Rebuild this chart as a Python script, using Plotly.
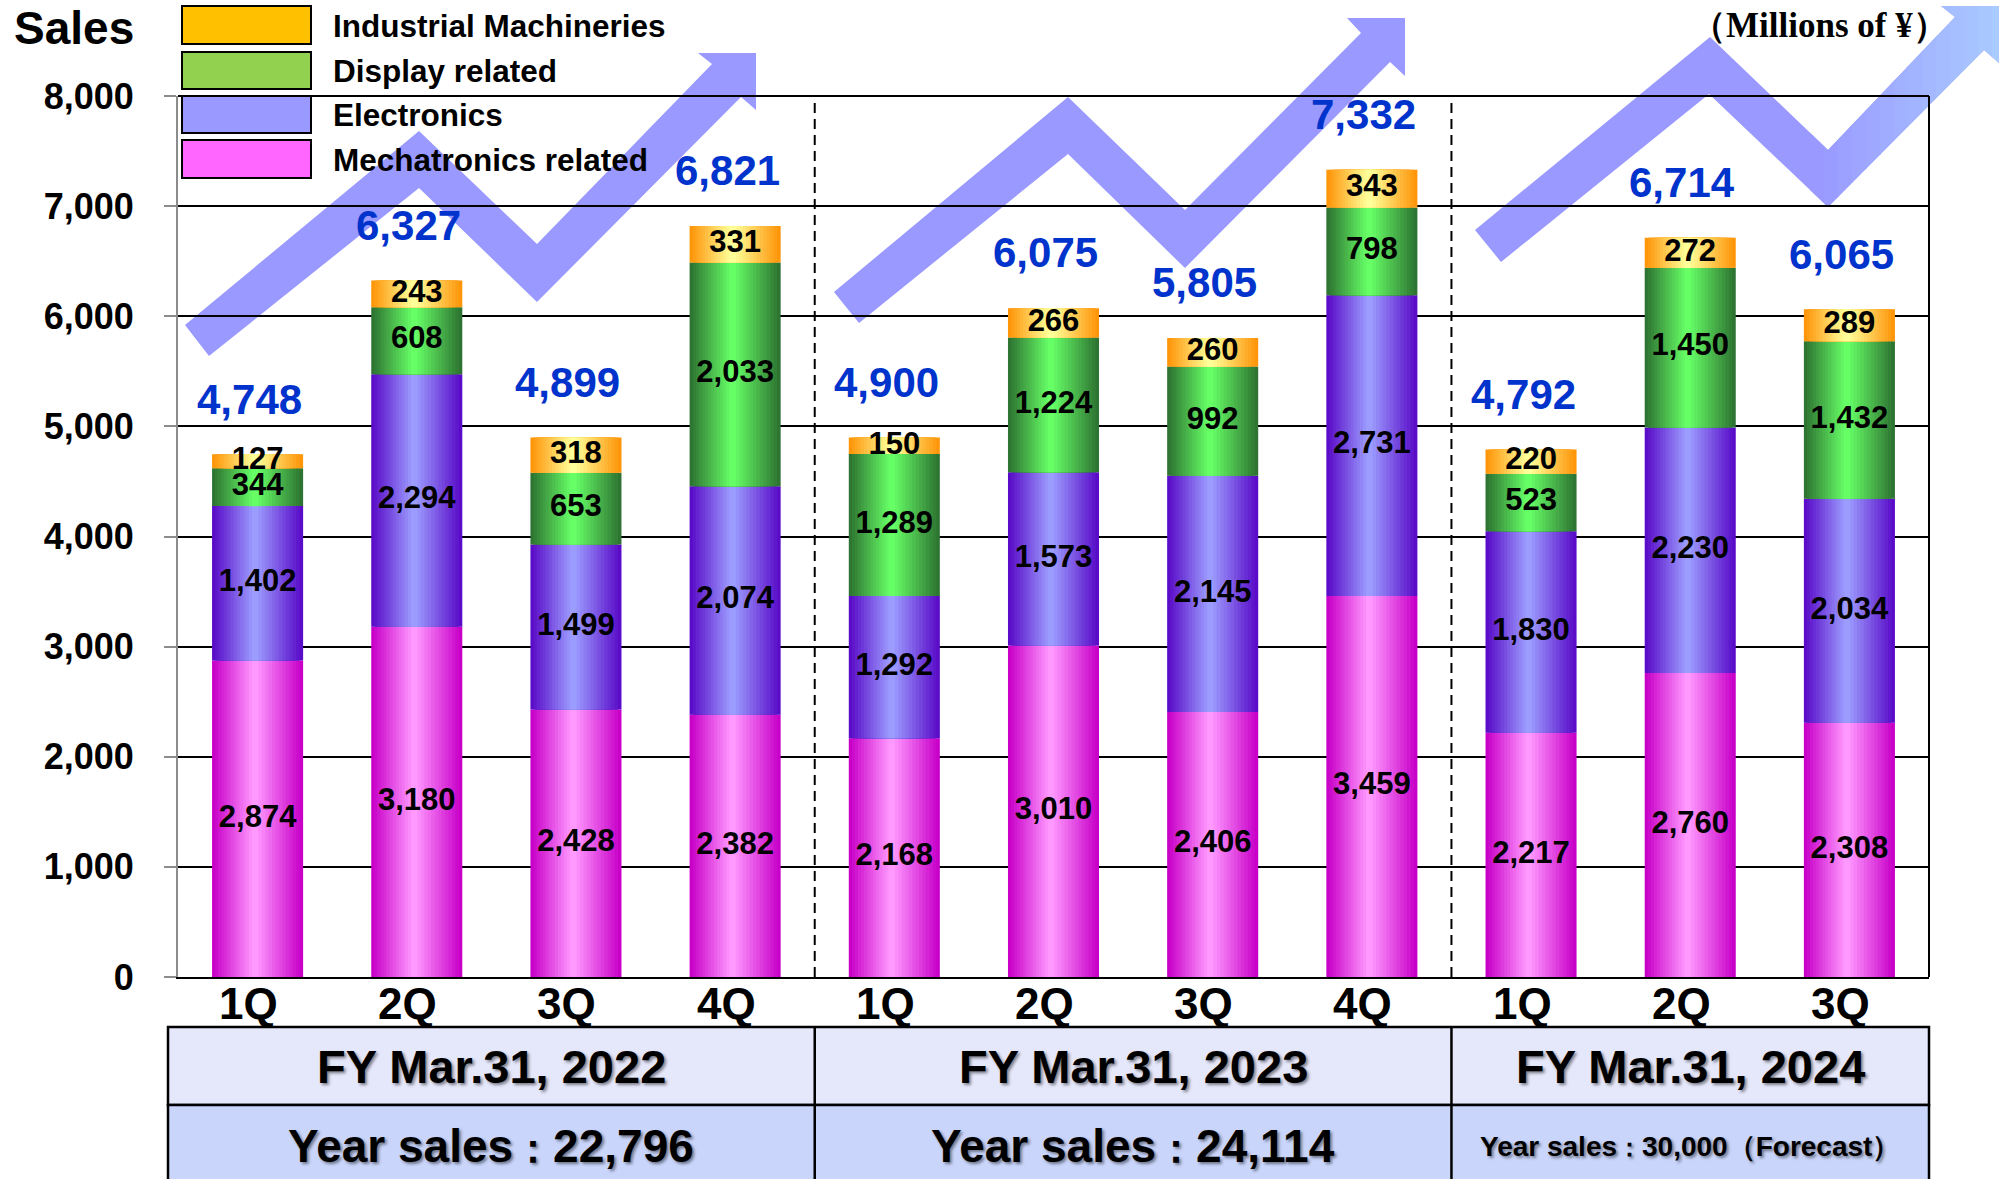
import plotly.graph_objects as go

# ---------------------------------------------------------------------------
# Data (Millions of yen)
# ---------------------------------------------------------------------------
quarters = ["1Q", "2Q", "3Q", "4Q", "1Q", "2Q", "3Q", "4Q", "1Q", "2Q", "3Q"]
mechatronics = [2874, 3180, 2428, 2382, 2168, 3010, 2406, 3459, 2217, 2760, 2308]
electronics = [1402, 2294, 1499, 2074, 1292, 1573, 2145, 2731, 1830, 2230, 2034]
display = [344, 608, 653, 2033, 1289, 1224, 992, 798, 523, 1450, 1432]
industrial = [127, 243, 318, 331, 150, 266, 260, 343, 220, 272, 289]
totals = [4748, 6327, 4899, 6821, 4900, 6075, 5805, 7332, 4792, 6714, 6065]

fiscal_years = ["FY Mar.31, 2022", "FY Mar.31, 2023", "FY Mar.31, 2024"]
fy_quarter_counts = [4, 4, 3]
year_sales = ["Year sales：22,796", "Year sales：24,114", "Year sales：30,000（Forecast）"]

# name, values, edge colour, centre colour, legend swatch
series = [
    ("Mechatronics related", mechatronics, "#C800C8", "#FF99FF", "#FF66FF"),
    ("Electronics", electronics, "#5A0CC8", "#9C9CFF", "#9999FF"),
    ("Display related", display, "#2E7432", "#66FF66", "#92D050"),
    ("Industrial Machineries", industrial, "#FF960A", "#FFFF99", "#FFC000"),
]

FONT = "Liberation Sans, Arial, sans-serif"
SERIF = "Liberation Serif, Times New Roman, serif"
BLUE = "#0033CC"

# plot area in page pixels (used for decoration placement)
PLOT_L, PLOT_R, PLOT_T, PLOT_B = 178, 1929, 96, 977
BAR_W = 0.572
N_LAYERS = 14
PEAK = 0.47


def px_x(X):
    return (X - PLOT_L) / (PLOT_R - PLOT_L)


def px_y(Y):
    return (PLOT_B - Y) / (PLOT_B - PLOT_T)


def data_x(v):
    return (v + 0.5) / len(quarters)


def mix(c1, c2, t):
    a = [int(c1[i:i + 2], 16) for i in (1, 3, 5)]
    b = [int(c2[i:i + 2], 16) for i in (1, 3, 5)]
    return "#" + "".join(f"{round(x + (y - x) * t):02X}" for x, y in zip(a, b))


def clip_x(poly, lo, hi):
    def clip(pts, inside, cross):
        out = []
        for i, p in enumerate(pts):
            q = pts[i - 1]
            if inside(p):
                if not inside(q):
                    out.append(cross(q, p))
                out.append(p)
            elif inside(q):
                out.append(cross(q, p))
        return out

    def at(xc):
        return lambda a, b: (xc, a[1] + (b[1] - a[1]) * (xc - a[0]) / (b[0] - a[0]))

    pts = clip(poly, lambda p: p[0] >= lo, at(lo))
    return clip(pts, lambda p: p[0] <= hi, at(hi)) if pts else pts


def poly_path(pts):
    return "M " + " L ".join(f"{px_x(x):.5f},{px_y(y):.5f}" for x, y in pts) + " Z"


def tight_colon(text, size):
    # the full-width colon is set a little smaller so it sits tight like the original
    return text.replace("：", f'<span style="font-size:{size}px">：</span>')


xs = list(range(len(quarters)))
fig = go.Figure()

# ---------------------------------------------------------------------------
# Stacked bars with a horizontal "cylinder" shading (overlaid narrower bars)
# ---------------------------------------------------------------------------
bases = [0] * len(xs)
for name, vals, edge, mid, _ in series:
    for k in range(N_LAYERS):
        f = 1 - k / N_LAYERS
        fig.add_bar(
            x=xs, y=vals, base=bases,
            width=BAR_W * f,
            offset=-BAR_W / 2 + PEAK * BAR_W * (1 - f),
            marker=dict(color=mix(edge, mid, k / (N_LAYERS - 1)), line=dict(width=0)),
            name=name, showlegend=False, hoverinfo="skip",
        )
    fig.add_scatter(
        x=xs, y=[b + v / 2 for b, v in zip(bases, vals)],
        text=[f"{v:,}" for v in vals], mode="text",
        textfont=dict(family=FONT, size=31, color="black", weight="bold"),
        showlegend=False, hoverinfo="skip", cliponaxis=False,
    )
    bases = [b + v for b, v in zip(bases, vals)]

# quarter totals
for x, t in zip(xs, totals):
    fig.add_annotation(
        x=x, y=t, text=f"{t:,}", showarrow=False, yanchor="middle",
        yshift=55, xshift=-8,
        font=dict(family=FONT, size=42, color=BLUE, weight="bold"),
    )

# quarter labels under the axis
for x, q in zip(xs, quarters):
    fig.add_annotation(
        x=x, y=px_y(1003), yref="paper", text=q, showarrow=False, yanchor="middle",
        xshift=-9, font=dict(family=FONT, size=44, color="black", weight="bold"),
    )

# ---------------------------------------------------------------------------
# Decorative zig-zag arrows (page pixels)
# ---------------------------------------------------------------------------
arrows = [
    [(209, 356), (419, 188), (537, 302), (741, 97), (756, 110), (756, 53),
     (698, 53), (712, 64), (537, 244), (419, 131), (185, 325)],
    [(859, 323), (1068, 154), (1185, 268), (1390, 62), (1405, 76), (1405, 18),
     (1347, 18), (1361, 33), (1185, 210), (1068, 97), (834, 292)],
    [(1501, 262), (1709, 94), (1828, 207), (1984, 50), (1999, 63), (1999, 6),
     (1941, 6), (1955, 17), (1828, 150), (1710, 37), (1475, 230)],
]
shapes = []
for pts in arrows:
    shapes.append(dict(type="path", xref="paper", yref="paper", path=poly_path(pts),
                       fillcolor="#9999FF", line=dict(width=0), layer="below"))
# last arrow fades to light blue towards its head
step = 14
for x0 in range(1810, 2001, step):
    part = clip_x(arrows[2], x0, x0 + step + 1)
    if len(part) < 3:
        continue
    t = min(1.0, (x0 - 1810) / 185)
    shapes.append(dict(type="path", xref="paper", yref="paper", path=poly_path(part),
                       fillcolor=mix("#9999FF", "#AACCFF", t), line=dict(width=0),
                       layer="below"))

# plot frame: right border, top border, FY separators
shapes.append(dict(type="line", xref="paper", yref="paper", x0=1, x1=1, y0=0, y1=1,
                   line=dict(color="black", width=2)))
shapes.append(dict(type="line", xref="paper", yref="paper", x0=0, x1=1, y0=1, y1=1,
                   line=dict(color="black", width=2)))
bounds = [-0.5]
for n in fy_quarter_counts:
    bounds.append(bounds[-1] + n)
for b in bounds[1:-1]:
    shapes.append(dict(type="line", xref="x", yref="paper", x0=b, x1=b, y0=0, y1=1,
                       line=dict(color="black", width=2, dash="10px,6px")))

# ---------------------------------------------------------------------------
# Legend (drawn by hand to get the large swatches)
# ---------------------------------------------------------------------------
legend_rows = [(6, 44), (52, 89), (96, 133), (140, 178)]
for (name, _, _, _, swatch), (y0, y1) in zip(reversed(series), legend_rows):
    shapes.append(dict(type="rect", xref="paper", yref="paper",
                       x0=px_x(182), x1=px_x(311), y0=px_y(y1), y1=px_y(y0),
                       fillcolor=swatch, line=dict(color="black", width=2)))
    fig.add_annotation(xref="paper", yref="paper", x=px_x(331), y=px_y((y0 + y1) / 2 + 1),
                       text=name, showarrow=False, xanchor="left", yanchor="middle",
                       font=dict(family=FONT, size=31.5, color="black", weight="bold"))

# ---------------------------------------------------------------------------
# Fiscal-year table under the axis
# ---------------------------------------------------------------------------
tbl_l, tbl_r = px_x(168), 1.0
row1_top, row_mid, row2_bot = px_y(1027), px_y(1105), px_y(1195)
shapes.append(dict(type="rect", xref="paper", yref="paper", x0=tbl_l, x1=tbl_r,
                   y0=row_mid, y1=row1_top, fillcolor="#E5E7FB",
                   line=dict(color="black", width=2.5)))
shapes.append(dict(type="rect", xref="paper", yref="paper", x0=tbl_l, x1=tbl_r,
                   y0=row2_bot, y1=row_mid, fillcolor="#C9D5FB",
                   line=dict(color="black", width=2.5)))
for b in bounds[1:-1]:
    shapes.append(dict(type="line", xref="paper", yref="paper", x0=data_x(b), x1=data_x(b),
                       y0=row2_bot, y1=row1_top, line=dict(color="black", width=2.5)))

shadow = "2px 2px 3px rgba(0,0,0,0.45)"
for i, (fy, ys) in enumerate(zip(fiscal_years, year_sales)):
    left = tbl_l if i == 0 else data_x(bounds[i])
    xm = (left + data_x(bounds[i + 1])) / 2
    fig.add_annotation(xref="paper", yref="paper", x=xm, y=px_y(1066), text=fy,
                       showarrow=False, xanchor="center", yanchor="middle",
                       font=dict(family=FONT, size=47, color="black", weight="bold",
                                 shadow=shadow))
    small = "Forecast" in ys
    fig.add_annotation(xref="paper", yref="paper", x=xm, y=px_y(1146),
                       text=tight_colon(ys, 25 if small else 40),
                       showarrow=False, xanchor="center", yanchor="middle",
                       font=dict(family=FONT, size=28 if small else 46, color="black",
                                 weight="bold", shadow=shadow))

# titles
fig.add_annotation(xref="paper", yref="paper", x=px_x(12), y=px_y(28), text="Sales",
                   showarrow=False, xanchor="left", yanchor="middle",
                   font=dict(family=FONT, size=46, color="black", weight="bold"))
fig.add_annotation(xref="paper", yref="paper", x=px_x(1950), y=px_y(25),
                   text="（Millions of ¥）", showarrow=False, xanchor="right",
                   yanchor="middle",
                   font=dict(family=SERIF, size=35, color="black", weight="bold"))

fig.update_layout(
    width=2001, height=1179,
    margin=dict(l=PLOT_L, r=2001 - PLOT_R, t=PLOT_T, b=1179 - PLOT_B),
    barmode="overlay",
    paper_bgcolor="white", plot_bgcolor="rgba(0,0,0,0)",
    showlegend=False,
    font=dict(family=FONT, color="black"),
    shapes=shapes,
)
fig.update_xaxes(
    range=[-0.5, len(quarters) - 0.5], showticklabels=False,
    showgrid=False, zeroline=False, showline=True, linecolor="black", linewidth=2,
    ticks="",
)
fig.update_yaxes(
    range=[0, 8000], dtick=1000, tickformat=",",
    tickfont=dict(family=FONT, size=36, color="black", weight="bold"),
    showgrid=True, gridcolor="black", gridwidth=2, zeroline=False,
    showline=True, linecolor="#8C8C8C", linewidth=2,
    ticks="outside", ticklen=12, tickcolor="#8C8C8C", tickwidth=2,
    ticklabelstandoff=23,
)

fig.write_html("out.html", config={"displayModeBar": False},
               post_script="document.body.style.margin='0';")
